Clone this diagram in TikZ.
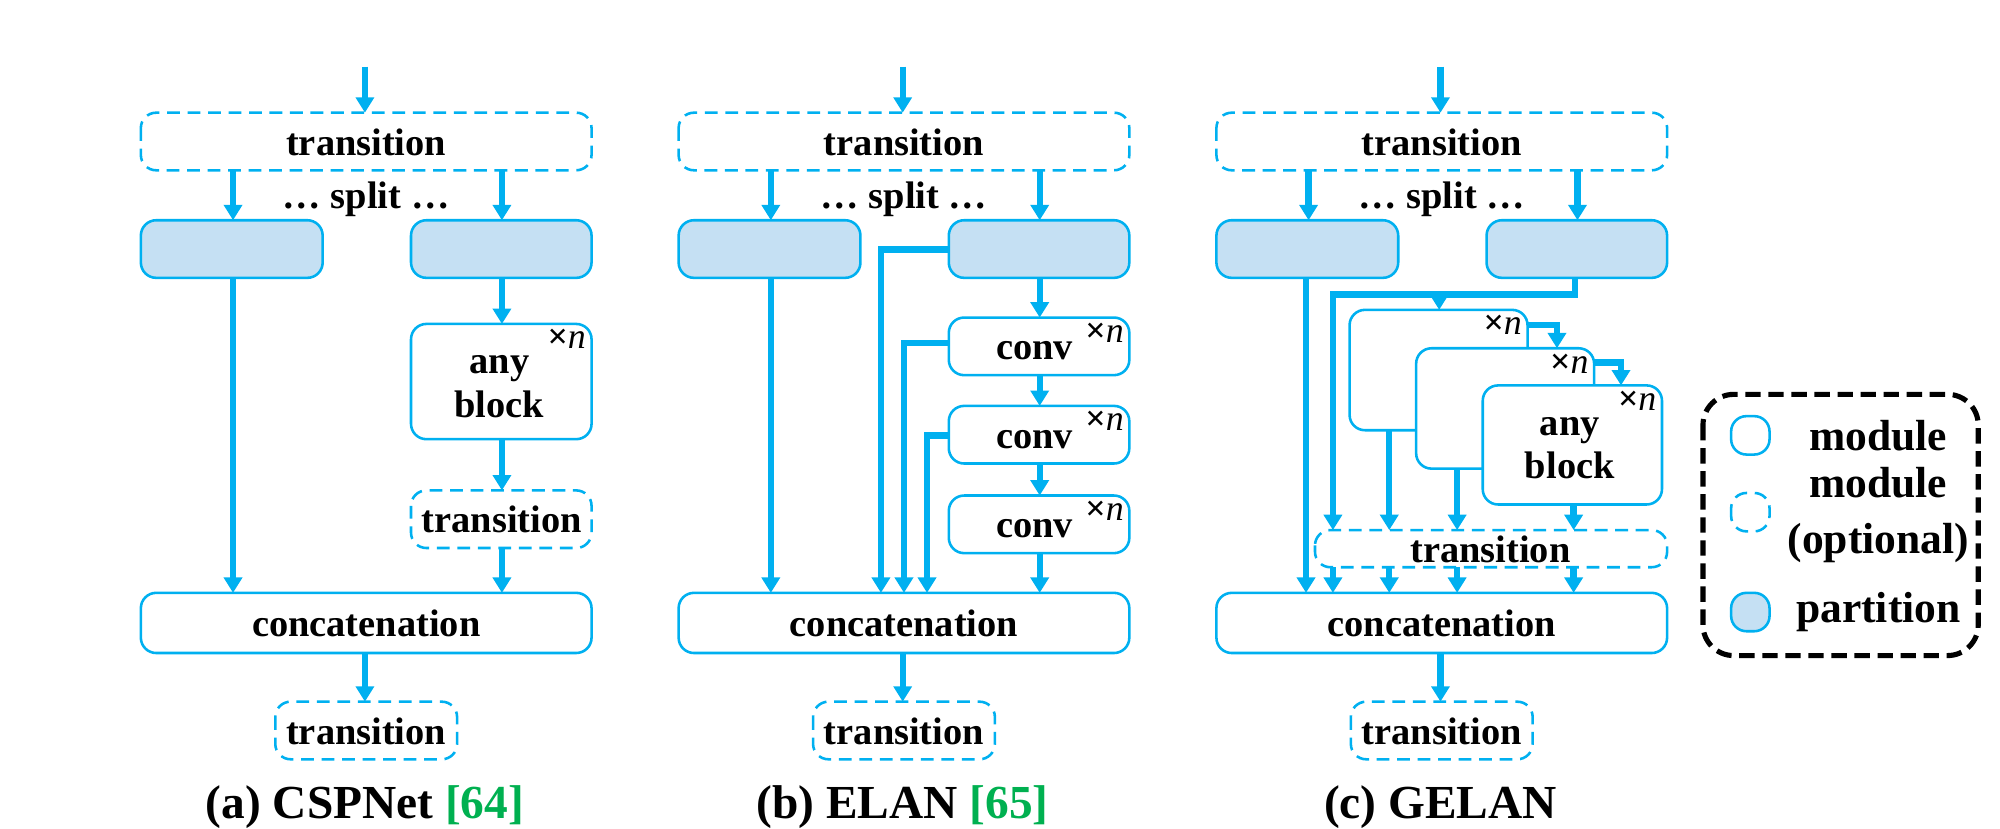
\documentclass[tikz,border=0pt]{standalone}
\usepackage{fontspec}
\setmainfont{Liberation Serif}
\usetikzlibrary{arrows.meta}
\definecolor{lb}{HTML}{00B0F0}
\definecolor{pf}{HTML}{C5E0F3}
\definecolor{gr}{HTML}{00B050}
\begin{document}
\begin{tikzpicture}[x=0.5pt,y=-0.5pt,
  txt/.style={font=\bfseries\fontsize{15}{17}\selectfont},
  mod/.style={draw=lb,line width=1pt,rounded corners=6pt,fill=white},
  opt/.style={draw=lb,line width=1pt,rounded corners=6pt,dash pattern=on 5pt off 3pt,fill=white},
  part/.style={draw=lb,line width=1pt,rounded corners=6pt,fill=pf},
  ar/.style={draw=lb,line width=2.5pt,-{Triangle[width=7pt,length=6pt]}},
  ln/.style={draw=lb,line width=2.5pt},
  xn/.style={font=\fontsize{14}{16}\selectfont,anchor=north east,inner sep=2pt},
  captxt/.style={font=\bfseries\fontsize{18.5}{20}\selectfont},
  leg/.style={font=\bfseries\fontsize{17}{22}\selectfont,align=center}]
\useasboundingbox (0,0) rectangle (1562,647);
\foreach \o/\n in {0/a,420/b,840/c}{
  \coordinate (top\n) at (285+\o,52);
  \draw[opt] (110+\o,88) rectangle (462+\o,133);
  \node[txt] (tr\n) at (286+\o,111) {transition};
  \node[txt] (sp\n) at (286+\o,156) {\dots\ split \dots};
  \draw[part] (110+\o,172) rectangle (252+\o,217);
  \draw[part] (321+\o,172) rectangle (462+\o,217);
  \draw[mod] (110+\o,463) rectangle (462+\o,510);
  \node[txt] (cc\n) at (286+\o,487) {concatenation};
  \draw[opt] (215+\o,548) rectangle (357+\o,593);
  \node[txt] (ot\n) at (286+\o,571) {transition};
  \draw[ar] (285+\o,52) -- (285+\o,88);
  \draw[ar] (182+\o,133) -- (182+\o,172);
  \draw[ar] (392+\o,133) -- (392+\o,172);
  \draw[ar] (285+\o,510) -- (285+\o,548);
}
\node[captxt] (capa) at (285,630) {(a) CSPNet \textcolor{gr}{[64]}};
\node[captxt] (capb) at (705,630) {(b) ELAN \textcolor{gr}{[65]}};
\node[captxt] (capc) at (1125,630) {(c) GELAN};
% (a)
\draw[ar] (182,217) -- (182,463);
\draw[mod] (321,253) rectangle (462,343);
\node[txt,align=center] (ab) at (390,302) {any\\block};
\node[xn] at (462,253) {\textbf{×}\textit{n}};
\draw[opt] (321,383) rectangle (462,428);
\node[txt] (ta) at (392,406) {transition};
\draw[ar] (392,217) -- (392,253);
\draw[ar] (392,343) -- (392,383);
\draw[ar] (392,428) -- (392,463);
% (b)
\draw[ar] (602,217) -- (602,463);
\foreach \y/\m in {248/1,317/2,387/3}{
  \draw[mod] (741,\y) rectangle (882,\y+45);
  \node[txt] (cv\m) at (808,\y+26) {conv};
  \node[xn] at (882,\y) {\textbf{×}\textit{n}};
}
\draw[ar] (812,217) -- (812,248);
\draw[ar] (812,293) -- (812,317);
\draw[ar] (812,362) -- (812,387);
\draw[ar] (812,432) -- (812,463);
\draw[ar] (741,195) -| (688,463);
\draw[ar] (741,268) -| (706,463);
\draw[ar] (741,340) -| (724,463);
% (c)
\draw[ar] (1020,217) -- (1020,463);
\draw[ar] (1230,217) -- (1230,230) -| (1041,414);
\draw[ar] (1124,230) -- (1124,242);
\draw[mod] (1054,242) rectangle (1193,336);
\node[xn] at (1193,242) {\textbf{×}\textit{n}};
\draw[mod] (1106,272) rectangle (1245,366);
\node[xn] at (1245,272) {\textbf{×}\textit{n}};
\draw[mod] (1158,301) rectangle (1298,394);
\node[xn] at (1298,301) {\textbf{×}\textit{n}};
\node[txt,align=center] (cb) at (1226,350) {any\\block};
\draw[ar] (1193,254) -| (1216,272);
\draw[ar] (1245,283) -| (1266,301);
\draw[opt] (1027,414) rectangle (1302,443);
\node[txt] (tc) at (1164,429) {transition};
\draw[ar] (1085,336) -- (1085,414);
\draw[ar] (1138,366) -- (1138,414);
\draw[ar] (1229,394) -- (1229,414);
\foreach \x in {1041,1085,1138,1229}{\draw[ar] (\x,443) -- (\x,463);}
% legend
\draw[line width=2pt,dash pattern=on 6pt off 3pt,rounded corners=12pt] (1330,308) rectangle (1545,512);
\draw[mod] (1352,325) rectangle (1382,355);
\node[leg] (l1) at (1467,340) {module};
\draw[opt] (1352,385) rectangle (1382,415);
\node[leg] (l2) at (1467,402) {module\\(optional)};
\draw[part] (1352,463) rectangle (1382,493);
\node[leg] (l3) at (1467,478) {partition};
\end{tikzpicture}
\end{document}
